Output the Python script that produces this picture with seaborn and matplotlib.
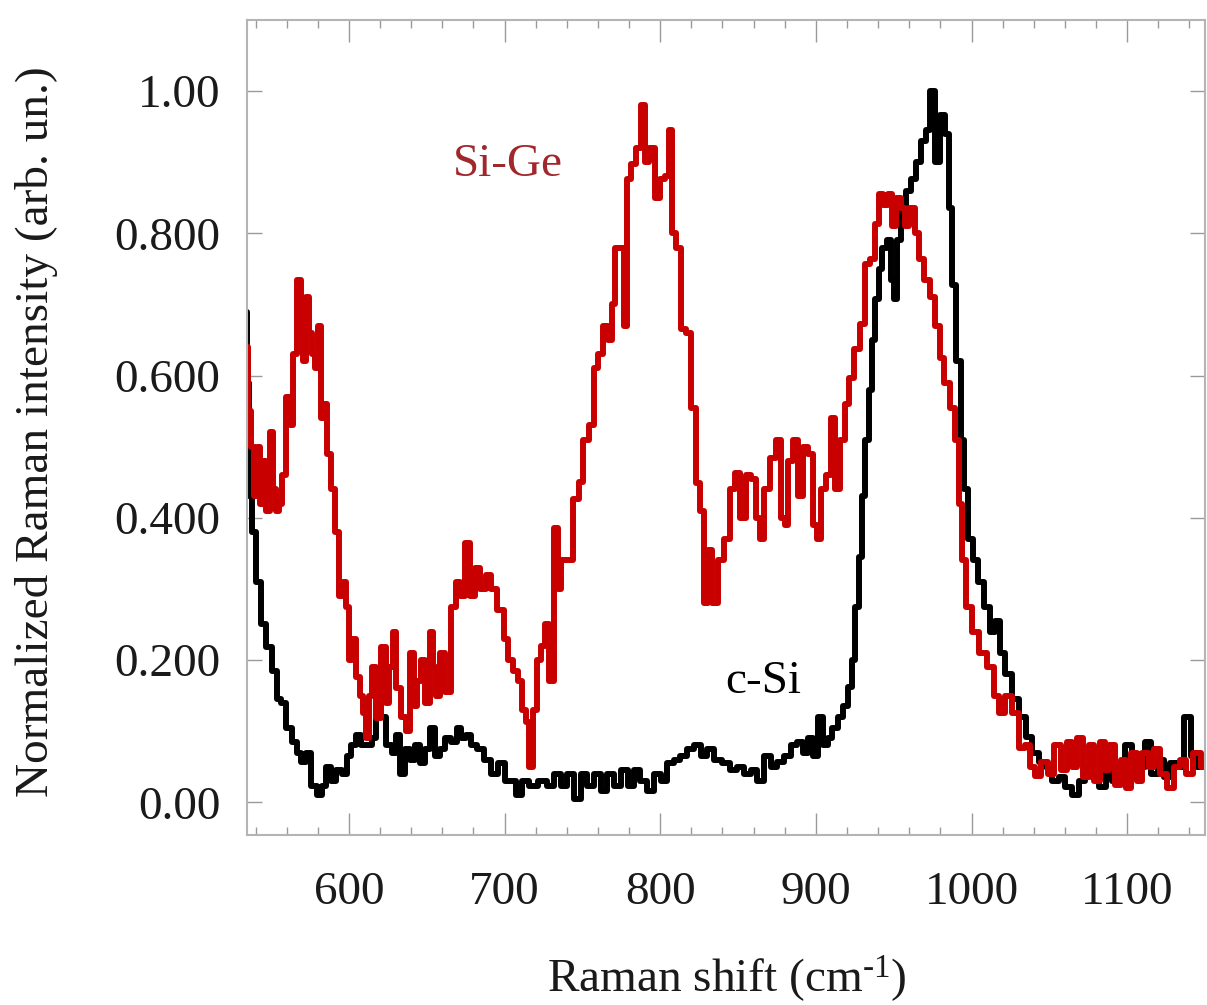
import matplotlib
matplotlib.use("Agg")
import matplotlib.pyplot as plt
import seaborn as sns
import pandas as pd
from matplotlib.ticker import MultipleLocator, FixedLocator, FixedFormatter

# ---------------- data ----------------
sige_x = [534, 536, 538, 540, 542, 544, 546, 548, 550, 552, 554, 556, 558, 561, 563, 565, 568, 570, 571,
          573.6, 575, 577, 579, 581, 583, 585, 587, 590, 592, 595, 597, 599, 601, 603, 606, 608, 610, 612,
          614, 616, 619, 622, 625, 627, 629, 632, 635, 638, 640, 643, 645, 647, 651, 653, 655, 657, 660,
          663.5, 667, 670, 673, 676, 679, 683, 686, 690, 693, 697.6, 701, 704, 707, 710, 713, 715, 717,
          719, 722, 725, 727, 730, 733, 735, 738, 742.5, 746, 749, 752, 756, 758.5, 762, 765, 768, 770,
          772, 776, 778, 779, 783, 786, 789, 791, 795, 798, 801.5, 805, 806, 808.6, 812, 815, 818, 821,
          824.6, 827, 829, 832, 835, 839, 843, 847, 849.6, 853.5, 857, 860, 863, 865.6, 868, 873, 876,
          879, 881, 883.7, 887, 890, 893, 896.5, 899.6, 901.7, 905, 908, 911, 913.8, 917, 920, 923,
          926.6, 929.8, 933, 936, 939.5, 941.6, 944.7, 948, 950, 953, 956, 958, 962, 965, 968, 971, 975,
          978, 981, 984, 987.7, 991, 993, 995, 998, 1002, 1007.6, 1012, 1016.5, 1019, 1023.6, 1028,
          1032.6, 1036, 1039, 1042.6, 1047, 1051, 1055.6, 1060, 1063, 1066, 1070, 1073, 1077.5, 1080.5,
          1084, 1087, 1090, 1094, 1097.6, 1100.5, 1104, 1108, 1111.6, 1116, 1119, 1123, 1127.6, 1132,
          1136, 1140, 1145, 1150]
sige_y = [0.64, 0.55, 0.50, 0.43, 0.50, 0.42, 0.48, 0.41, 0.52, 0.44, 0.41, 0.42, 0.46, 0.57, 0.53, 0.63,
          0.735, 0.66, 0.62, 0.71, 0.66, 0.63, 0.61, 0.67, 0.54, 0.56, 0.49, 0.44, 0.38, 0.29, 0.31, 0.275,
          0.20, 0.23, 0.176, 0.15, 0.126, 0.09, 0.15, 0.19, 0.118, 0.218, 0.14, 0.19, 0.24, 0.16, 0.12,
          0.10, 0.21, 0.135, 0.17, 0.20, 0.14, 0.24, 0.19, 0.15, 0.21, 0.155, 0.275, 0.31, 0.29, 0.365,
          0.29, 0.33, 0.30, 0.32, 0.30, 0.27, 0.23, 0.20, 0.185, 0.17, 0.13, 0.113, 0.05, 0.13, 0.20, 0.22,
          0.25, 0.17, 0.385, 0.30, 0.34, 0.34, 0.427, 0.45, 0.51, 0.53, 0.61, 0.63, 0.67, 0.65, 0.70, 0.78,
          0.78, 0.67, 0.876, 0.897, 0.92, 0.98, 0.90, 0.92, 0.85, 0.876, 0.88, 0.945, 0.80, 0.78, 0.665,
          0.66, 0.554, 0.449, 0.41, 0.28, 0.355, 0.28, 0.34, 0.37, 0.44, 0.463, 0.40, 0.46, 0.455, 0.40,
          0.37, 0.44, 0.484, 0.51, 0.40, 0.39, 0.48, 0.51, 0.43, 0.50, 0.49, 0.39, 0.37, 0.44, 0.46, 0.54,
          0.44, 0.51, 0.56, 0.597, 0.637, 0.672, 0.757, 0.764, 0.813, 0.855, 0.84, 0.855, 0.81, 0.85,
          0.835, 0.81, 0.835, 0.80, 0.764, 0.735, 0.71, 0.67, 0.625, 0.59, 0.554, 0.51, 0.42, 0.34, 0.274,
          0.24, 0.21, 0.19, 0.15, 0.125, 0.15, 0.125, 0.077, 0.08, 0.05, 0.037, 0.057, 0.04, 0.08, 0.045,
          0.085, 0.05, 0.09, 0.035, 0.08, 0.03, 0.085, 0.045, 0.08, 0.025, 0.06, 0.02, 0.07, 0.03, 0.07,
          0.05, 0.075, 0.04, 0.02, 0.05, 0.06, 0.04, 0.07, 0.05]

csi_x = [534, 535, 537, 539, 542, 545, 548.7, 552, 555, 558, 561.5, 564.7, 568, 571, 574, 577.8, 581, 584,
         587, 590, 593.6, 597, 600, 603, 606.4, 609.6, 613, 616, 619, 622, 625.7, 629, 632, 634, 638, 641,
         644, 647, 650.7, 654, 657, 660, 663.5, 668, 670.6, 674, 677, 680, 684.7, 689, 693, 699, 702, 706,
         709, 713, 719, 724, 730, 734, 738, 742.5, 747, 751, 755, 760, 764, 768, 772.6, 777, 781, 785,
         789, 794, 798, 802.5, 806.7, 811, 815, 819.6, 824, 828, 832, 837, 842, 847, 851, 856, 860, 864,
         869, 873, 877, 881.6, 886, 890, 893, 896.5, 899.6, 903, 906, 909, 912, 915.8, 919, 922, 924,
         926.6, 928.8, 930.5, 933, 935, 937, 939.5, 941.6, 943.8, 947, 949, 951, 953, 956, 959.5, 962.6,
         966, 969, 972, 975, 978, 981, 984.5, 986.6, 988.6, 991.8, 994.7, 996, 999.6, 1002.5, 1006, 1010,
         1013.5, 1016.5, 1019.6, 1023.6, 1028, 1032.6, 1037, 1041, 1045.5, 1049.6, 1054, 1058, 1062.6,
         1066.6, 1071, 1075, 1079.6, 1084, 1088.6, 1092, 1097, 1100.6, 1105, 1109.6, 1113, 1117, 1122,
         1125.6, 1130, 1134, 1139.6, 1142.6, 1147, 1151]
csi_y = [0.69, 0.59, 0.43, 0.38, 0.31, 0.25, 0.218, 0.185, 0.145, 0.14, 0.105, 0.085, 0.07, 0.057, 0.07,
         0.023, 0.01, 0.023, 0.05, 0.03, 0.045, 0.04, 0.065, 0.08, 0.095, 0.08, 0.08, 0.09, 0.14, 0.12,
         0.08, 0.07, 0.095, 0.04, 0.075, 0.06, 0.08, 0.055, 0.075, 0.105, 0.065, 0.075, 0.09, 0.085, 0.105,
         0.09, 0.095, 0.08, 0.075, 0.06, 0.04, 0.055, 0.03, 0.03, 0.01, 0.03, 0.023, 0.03, 0.023, 0.04,
         0.023, 0.04, 0.005, 0.04, 0.023, 0.04, 0.016, 0.04, 0.023, 0.045, 0.023, 0.045, 0.03, 0.016, 0.04,
         0.03, 0.055, 0.06, 0.065, 0.075, 0.08, 0.065, 0.075, 0.06, 0.055, 0.045, 0.05, 0.04, 0.045, 0.03,
         0.065, 0.05, 0.057, 0.065, 0.08, 0.085, 0.07, 0.09, 0.065, 0.12, 0.08, 0.09, 0.105, 0.12, 0.135,
         0.162, 0.20, 0.274, 0.345, 0.43, 0.51, 0.58, 0.65, 0.707, 0.75, 0.78, 0.79, 0.735, 0.707, 0.79,
         0.835, 0.86, 0.876, 0.90, 0.93, 0.945, 1.0, 0.90, 0.966, 0.94, 0.835, 0.728, 0.62, 0.51, 0.44,
         0.37, 0.34, 0.31, 0.274, 0.24, 0.255, 0.21, 0.18, 0.145, 0.12, 0.092, 0.07, 0.057, 0.05, 0.03,
         0.035, 0.022, 0.01, 0.03, 0.05, 0.035, 0.022, 0.05, 0.03, 0.05, 0.08, 0.035, 0.05, 0.085, 0.04,
         0.06, 0.035, 0.055, 0.05, 0.12, 0.065, 0.05, 0.055]

ytick_values = [0.0, 0.2, 0.4, 0.6, 0.8, 1.0]
ytick_labels = ["0.00", "0.200", "0.400", "0.600", "0.800", "1.00"]
xtick_values = [600, 700, 800, 900, 1000, 1100]

# ---------------- style ----------------
sns.set_theme(style="white")
plt.rcParams["font.family"] = ["Liberation Serif", "DejaVu Serif"]
plt.rcParams["mathtext.fontset"] = "custom"
plt.rcParams["mathtext.rm"] = "Liberation Serif"
plt.rcParams["mathtext.it"] = "Liberation Serif:italic"
plt.rcParams["mathtext.default"] = "regular"

W, H = 1207, 1005
fig = plt.figure(figsize=(W / 100, H / 100), dpi=100)
left_px, right_px, top_px, bot_px = 247, 1205, 20, 835
ax = fig.add_axes([left_px / W, 1 - bot_px / H, (right_px - left_px) / W, (bot_px - top_px) / H])

df_c = pd.DataFrame({"x": csi_x, "y": csi_y})
df_s = pd.DataFrame({"x": sige_x, "y": sige_y})
sns.lineplot(data=df_c, x="x", y="y", ax=ax, color="black", linewidth=4.3,
             drawstyle="steps-mid", estimator=None, sort=False)
sns.lineplot(data=df_s, x="x", y="y", ax=ax, color="#C80000", linewidth=4.3,
             drawstyle="steps-mid", estimator=None, sort=False)

ax.set_xlim(534.5, 1150)
ax.set_ylim(-0.046, 1.10)
ax.xaxis.set_major_locator(FixedLocator(xtick_values))
ax.xaxis.set_minor_locator(MultipleLocator(20))
ax.yaxis.set_major_locator(FixedLocator(ytick_values))
ax.yaxis.set_major_formatter(FixedFormatter(ytick_labels))

tick_col = "#9a9a9a"
ax.tick_params(axis="x", which="major", direction="in", length=16, width=1.0, color=tick_col,
               top=True, bottom=True, labelsize=34, pad=26, labelcolor="#1a1a1a")
ax.tick_params(axis="x", which="minor", direction="in", length=6, width=1.0, color=tick_col,
               top=True, bottom=True)
ax.tick_params(axis="y", which="major", direction="in", length=11, width=1.0, color=tick_col,
               left=True, right=True, labelsize=34, pad=19, labelcolor="#1a1a1a")
for sp in ax.spines.values():
    sp.set_visible(True)
    sp.set_color("#b4b4b4")
    sp.set_linewidth(1.5)

ax.set_xlabel("")
ax.set_ylabel("")
fig.text(37 / W, 1 - 432 / H, "Normalized Raman intensity (arb. un.)", rotation=90,
         ha="center", va="center", fontsize=34, color="#1a1a1a")
fig.text(727 / W, 1 - 992 / H, r"Raman shift (cm$^{\text{-1}}$)", ha="center", va="baseline",
         fontsize=34, color="#1a1a1a")

ax.text(702, 0.897, "Si-Ge", color="#A0282D", ha="center", va="center", fontsize=34)
ax.text(866, 0.169, "c-Si", color="black", ha="center", va="center", fontsize=34)

fig.savefig("out.png", dpi=100, facecolor="white")
